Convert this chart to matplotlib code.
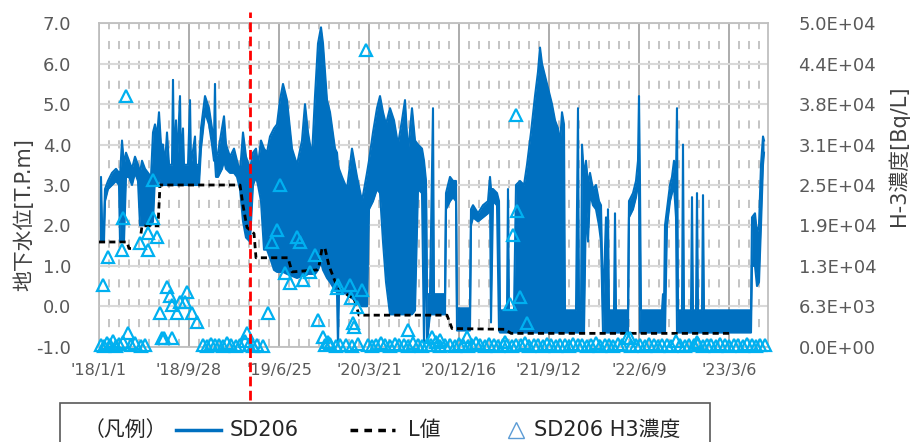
import numpy as np
import matplotlib.pyplot as plt
from matplotlib.lines import Line2D
from matplotlib.patches import Rectangle

plt.rcParams['font.family'] = ['DejaVu Sans', 'Noto Sans CJK JP']

base = np.datetime64('2018-01-01')

# SD206 water level [T.P.m]: day offset from 2018/1/1, upper / lower edge of the dense trace
lvl_day = [0, 6, 9, 15, 18, 27, 39, 51, 60, 63,
           69, 75, 81, 90, 99, 108, 117, 123, 129, 138,
           147, 156, 162, 168, 174, 180, 186, 192, 198, 204,
           210, 219, 222, 225, 231, 234, 243, 246, 252, 255,
           267, 273, 276, 288, 291, 300, 306, 318, 330, 339,
           345, 348, 351, 357, 369, 375, 381, 393, 405, 414,
           423, 432, 441, 453, 462, 471, 477, 486, 495, 504,
           513, 525, 534, 543, 552, 564, 579, 594, 609, 618,
           627, 639, 648, 657, 666, 672, 684, 693, 708, 714,
           717, 720, 729, 744, 759, 774, 789, 804, 810, 822,
           834, 843, 852, 861, 873, 885, 897, 909, 918, 927,
           939, 948, 957, 969, 975, 981, 984, 993, 1002, 1005,
           1023, 1038, 1041, 1053, 1062, 1071, 1074, 1098, 1113, 1116,
           1122, 1137, 1152, 1167, 1173, 1176, 1182, 1194, 1200, 1203,
           1224, 1227, 1230, 1245, 1251, 1263, 1275, 1284, 1296, 1308,
           1317, 1323, 1329, 1338, 1347, 1359, 1368, 1377, 1383, 1389,
           1395, 1398, 1431, 1437, 1440, 1446, 1449, 1455, 1461, 1467,
           1473, 1482, 1491, 1500, 1506, 1512, 1521, 1524, 1527, 1530,
           1545, 1548, 1551, 1587, 1590, 1602, 1611, 1617, 1620, 1623,
           1626, 1689, 1692, 1695, 1698, 1704, 1713, 1719, 1725, 1731,
           1734, 1737, 1749, 1752, 1755, 1776, 1779, 1782, 1791, 1794,
           1797, 1809, 1812, 1815, 1956, 1959, 1968, 1974, 1980, 1986,
           1992, 1995]
lvl_hi = [2.0, 3.2, 2.1, 2.0, 2.9, 3.1, 3.3, 3.4, 3.3, 3.2,
          4.1, 3.5, 3.8, 3.6, 3.4, 3.7, 3.5, 3.3, 3.6, 3.4,
          3.3, 3.2, 4.3, 4.5, 4.2, 4.8, 4.0, 4.0, 3.5, 4.3,
          3.5, 3.5, 5.6, 3.5, 4.6, 3.5, 5.2, 3.5, 4.4, 3.5,
          3.5, 5.1, 3.5, 4.2, 3.5, 3.5, 4.4, 5.2, 4.9, 4.4,
          4.1, 5.5, 3.7, 3.8, 4.4, 4.7, 4.0, 3.7, 3.9, 3.6,
          3.3, 4.3, 3.7, 3.4, 3.8, 3.9, 3.5, 4.1, 3.9, 3.8,
          4.2, 4.4, 4.5, 5.1, 5.5, 5.1, 3.9, 3.5, 4.1, 5.0,
          4.3, 3.7, 5.2, 6.5, 6.9, 6.5, 5.1, 4.8, 3.9, 3.8,
          3.5, 3.4, 3.2, 2.9, 3.9, 3.2, 2.6, 3.3, 3.6, 4.3,
          4.9, 5.2, 4.8, 4.5, 4.9, 4.6, 4.0, 4.6, 5.1, 3.8,
          4.9, 4.1, 4.0, 3.9, 3.6, 3.1, 0.3, 0.3, 4.9, 0.3,
          0.3, 0.3, 2.8, 3.2, 3.1, 3.1, -0.05, -0.05, -0.05, 2.4,
          2.5, 2.3, 2.5, 2.6, 3.2, 2.9, 2.9, 2.8, 2.6, -0.1,
          -0.1, 2.9, -0.1, -0.1, 3.0, 3.1, 3.0, 3.5, 4.3, 5.2,
          5.8, 6.4, 6.0, 5.7, 5.4, 5.0, 4.6, 4.4, 4.0, 4.8,
          4.5, -0.1, -0.1, 4.9, -0.1, -0.1, 4.0, 3.2, 3.6, 3.0,
          3.3, 2.9, 3.0, 2.6, 2.5, -0.1, 2.2, -0.1, 2.4, -0.1,
          -0.1, 2.3, -0.1, -0.1, 2.6, 2.8, 3.1, 3.6, 5.2, 3.0,
          -0.1, -0.1, 0.3, -0.1, 2.0, 2.4, 3.0, 3.2, 3.6, 3.2,
          4.9, -0.1, -0.1, 4.0, -0.1, -0.1, 2.7, -0.1, -0.1, 2.8,
          -0.1, -0.1, 2.75, -0.1, -0.1, 2.2, 2.3, 1.8, 2.0, 3.5,
          4.2, 4.1]
lvl_lo = [1.6, 1.6, 1.6, 1.6, 2.6, 2.9, 3.0, 3.1, 3.0, 1.6,
          1.6, 1.6, 3.2, 3.2, 3.0, 3.3, 3.1, 2.0, 2.0, 2.0,
          2.0, 2.0, 2.1, 3.2, 3.0, 3.2, 3.0, 3.0, 3.0, 3.0,
          3.0, 3.0, 3.0, 3.0, 3.0, 3.0, 3.0, 3.0, 3.0, 3.0,
          3.0, 3.0, 3.0, 3.0, 3.0, 3.0, 3.9, 4.8, 4.5, 4.0,
          3.6, 3.6, 3.2, 3.2, 3.4, 3.6, 3.4, 3.3, 3.3, 3.2,
          2.9, 2.1, 1.7, 1.6, 3.0, 3.2, 3.0, 2.6, 1.4, 1.4,
          1.2, 0.9, 0.85, 0.85, 0.85, 0.8, 0.75, 0.7, 0.75, 0.75,
          0.8, 0.8, 0.8, 0.9, 1.1, 0.9, 0.7, 0.6, 0.4, 0.35,
          -1.0, 0.35, 0.35, 0.3, 0.2, 0.1, 0.0, 0.0, 2.4, 2.6,
          2.9, 2.8, 1.6, 0.6, -0.2, -0.2, -0.2, -0.2, -0.2, -0.2,
          -0.2, -0.1, 2.9, 2.8, -0.9, 2.8, -0.9, -0.2, -0.2, -0.2,
          -0.2, -0.2, 2.4, 2.6, 2.7, 2.6, -0.6, -0.6, -0.6, 2.0,
          2.2, 2.1, 2.2, 2.3, 2.8, -0.4, 2.6, 2.5, -0.6, -0.65,
          -0.65, -0.65, -0.65, -0.65, -0.65, -0.65, -0.65, -0.65, -0.65, -0.65,
          -0.65, -0.65, -0.65, -0.65, -0.65, -0.65, -0.65, -0.65, -0.65, -0.65,
          -0.65, -0.65, -0.65, -0.65, -0.65, -0.65, -0.65, -0.65, 2.6, 1.6,
          2.8, 2.5, 2.4, 2.0, 1.6, -0.65, -0.65, -0.65, -0.65, -0.65,
          -0.65, -0.65, -0.65, -0.65, 2.2, 2.4, 2.7, 3.0, 3.0, -0.65,
          -0.65, -0.65, -0.65, -0.65, -0.65, 2.0, 2.6, 2.8, 3.0, 2.2,
          -0.65, -0.65, -0.65, -0.65, -0.65, -0.65, -0.65, -0.65, -0.65, -0.65,
          -0.65, -0.65, -0.65, -0.65, -0.65, 1.0, 1.0, 0.5, 0.6, 2.0,
          3.5, 3.8]

# L値 [T.P.m]
l_day = [0, 84, 90, 96, 105, 126, 129, 177, 183, 423,
         432, 444, 465, 471, 567, 579, 654, 660, 669, 678,
         690, 708, 720, 750, 765, 780, 1044, 1059, 1218, 1236,
         1899]
l_val = [1.59, 1.59, 1.43, 1.43, np.nan, 1.8, 1.99, 1.99, 3.0, 3.0,
         2.5, 1.95, 1.8, 1.2, 1.2, 0.85, 0.9, 1.0, 1.43, 1.43,
         1.0, 0.62, 0.45, 0.25, 0.2, -0.22, -0.22, -0.55, -0.57, -0.67,
         -0.67]

# SD206 H3濃度 [Bq/L]
h3_day = [12, 27, 69, 72, 81, 87, 123, 147, 148, 162,
          163, 174, 183, 189, 204, 213, 219, 220, 234, 243,
          258, 264, 279, 294, 444, 507, 519, 534, 543, 558,
          573, 594, 603, 612, 633, 648, 657, 672, 687, 714,
          717, 753, 756, 762, 765, 774, 789, 801, 927, 999,
          1023, 1104, 1218, 1233, 1242, 1251, 1254, 1263, 1284, 1593,
          1794,
          6, 15, 24, 33, 42, 51, 60, 72, 96, 108,
          126, 138, 195, 312, 324, 336, 348, 360, 372, 384,
          396, 411, 423, 438, 450, 462, 474, 492, 678, 693,
          711, 723, 741, 759, 777, 807, 819, 831, 846, 858,
          873, 888, 900, 915, 927, 942, 957, 969, 984, 996,
          1011, 1023, 1038, 1053, 1068, 1080, 1092, 1107, 1119, 1131,
          1143, 1158, 1170, 1185, 1197, 1212, 1224, 1239, 1251, 1266,
          1278, 1290, 1305, 1317, 1332, 1344, 1356, 1371, 1383, 1398,
          1410, 1422, 1437, 1449, 1464, 1476, 1491, 1503, 1518, 1530,
          1542, 1557, 1569, 1584, 1596, 1611, 1623, 1638, 1650, 1665,
          1677, 1689, 1704, 1716, 1731, 1743, 1758, 1770, 1785, 1797,
          1812, 1824, 1836, 1851, 1863, 1878, 1890, 1905, 1917, 1932,
          1944, 1959, 1971, 1983, 1998]
h3_val = [9500, 13900, 15000, 19900, 38800, 2100, 16000, 17600, 15000, 25800,
          19900, 17000, 5200, 1300, 9200, 7800, 6500, 1300, 5200, 6900,
          6900, 8500, 5200, 3800, 2100, 5200, 16200, 18000, 25000, 11400,
          9800, 17000, 16200, 10300, 11600, 14200, 4100, 1500, 700, 9000,
          9500, 9500, 7500, 3700, 3000, 6100, 8800, 45900, 2600, 1500,
          1000, 1500, 700, 6600, 17300, 35800, 21000, 7700, 3700, 1300,
          700,
          300, 100, 600, 200, 900, 100, 400, 700, 200, 500,
          100, 300, 1300, 200, 100, 400, 200, 300, 100, 500,
          200, 100, 300, 900, 200, 100, 300, 100, 200, 400,
          100, 300, 200, 100, 400, 200, 100, 300, 600, 200,
          100, 400, 200, 300, 100, 500, 200, 100, 300, 200,
          800, 100, 300, 200, 100, 400, 200, 100, 300, 500,
          200, 100, 400, 200, 100, 300, 200, 100, 300, 200,
          500, 100, 300, 200, 100, 400, 200, 100, 300, 200,
          100, 400, 200, 300, 100, 200, 500, 100, 300, 200,
          100, 400, 200, 1300, 100, 300, 200, 100, 400, 200,
          100, 300, 200, 100, 900, 200, 100, 300, 200, 400,
          100, 300, 200, 100, 400, 200, 100, 300, 200, 100,
          400, 200, 100, 300, 200]

red_day = 453
x_end = 2007
x_tick_days = [0, 270, 540, 810, 1080, 1350, 1620, 1890]
x_tick_labels = ["'18/1/1", "'18/9/28", "'19/6/25", "'20/3/21",
                 "'20/12/16", "'21/9/12", "'22/6/9", "'23/3/6"]
y_ticks = [-1, 0, 1, 2, 3, 4, 5, 6, 7]
h3_ticks = [0, 6250, 12500, 18750, 25000, 31250, 37500, 43750, 50000]
h3_tick_labels = ['0.0E+00', '6.3E+03', '1.3E+04', '1.9E+04', '2.5E+04',
                  '3.1E+04', '3.8E+04', '4.4E+04', '5.0E+04']

blue = '#0070C0'
cyan = '#00B0F0'
tick_col = '#595959'

fig = plt.figure(figsize=(9.12, 4.42), dpi=100)
ax = fig.add_axes([99 / 912, 1 - 346.7 / 442, 669 / 912, 323.4 / 442])

# water level trace (dense oscillation drawn as a filled band)
d_lvl = base + np.array(lvl_day)
ax.fill_between(d_lvl, lvl_lo, lvl_hi, color=blue, lw=0, zorder=2)
ax.plot(d_lvl, lvl_hi, color=blue, lw=1.5, zorder=2)
ax.plot(d_lvl, lvl_lo, color=blue, lw=1.5, zorder=2)
ax.plot(base + np.array(l_day), l_val, color='black', lw=2,
        ls=(0, (2.2, 1.5)), zorder=3)

ax.set_xlim(base, base + x_end)
ax.set_ylim(-1, 7)
ax.set_xticks(base + np.array(x_tick_days))
ax.set_xticklabels(x_tick_labels)
minor = [d for d in range(30, x_end, 30) if d % 270 != 0]
ax.set_xticks(base + np.array(minor), minor=True)
ax.set_yticks(y_ticks)
ax.set_yticklabels([f'{v:.1f}' for v in y_ticks])

ax.set_axisbelow(True)
ax.grid(axis='y', which='major', color='#D9D9D9', lw=1.5)
ax.grid(axis='x', which='major', color='#A6A6A6', lw=1.3)
ax.grid(axis='x', which='minor', color='#BFBFBF', lw=1.3, ls=(0, (4.5, 6.5)))
ax.tick_params(axis='both', which='both', length=0)
ax.tick_params(axis='y', labelsize=13, labelcolor=tick_col, pad=20)
ax.tick_params(axis='x', labelsize=11.5, labelcolor=tick_col, pad=12)
for s in ax.spines.values():
    s.set_color('#BFBFBF')
    s.set_linewidth(1.3)

ax2 = ax.twinx()
ax2.set_ylim(0, 50000)
ax2.set_yticks(h3_ticks)
ax2.set_yticklabels(h3_tick_labels)
ax2.tick_params(axis='y', length=0, labelsize=13, labelcolor=tick_col, pad=22)
for s in ax2.spines.values():
    s.set_visible(False)
ax2.plot(base + np.array(h3_day), h3_val, ls='none', marker='^', ms=9,
         mfc='none', mec=cyan, mew=1.6, clip_on=False, zorder=4)
ax2.axvline(base + red_day, ymin=-0.165, ymax=1.035, color='red', lw=2,
            ls=(0, (3.5, 1.6)), clip_on=False, zorder=5)

fig.text(24 / 912, 1 - 215 / 442, '地下水位[T.P.m]', rotation=90,
         ha='center', va='center', fontsize=15, color='#404040')
fig.text(898 / 912, 1 - 156 / 442, 'H-3濃度[Bq/L]', rotation=90,
         ha='center', va='center', fontsize=15, color='#404040')

# legend box
fig.add_artist(Rectangle((60 / 912, -0.1), 650 / 912, 0.1 + 39 / 442,
                         transform=fig.transFigure, fill=False,
                         ec='#595959', lw=1.2))
ly = 12 / 442
fig.text(84 / 912, ly, '（凡例）', fontsize=15, va='center', color='#262626')
fig.add_artist(Line2D([176 / 912, 221 / 912], [ly, ly], color=blue, lw=2.5,
                      transform=fig.transFigure))
fig.text(230 / 912, ly, 'SD206', fontsize=15, va='center', color='#262626')
fig.add_artist(Line2D([350 / 912, 395 / 912], [ly, ly], color='black', lw=2.5,
                      ls=(0, (2.2, 1.8)), transform=fig.transFigure))
fig.text(408 / 912, ly, 'L値', fontsize=15, va='center', color='#262626')
fig.add_artist(Line2D([516 / 912], [ly], ls='none', marker='^', ms=11,
                      mfc='none', mec='#5B9BD5', mew=1, transform=fig.transFigure))
fig.text(534 / 912, ly, 'SD206 H3濃度', fontsize=15, va='center', color='#262626')

fig.savefig('out.png', dpi=100)
